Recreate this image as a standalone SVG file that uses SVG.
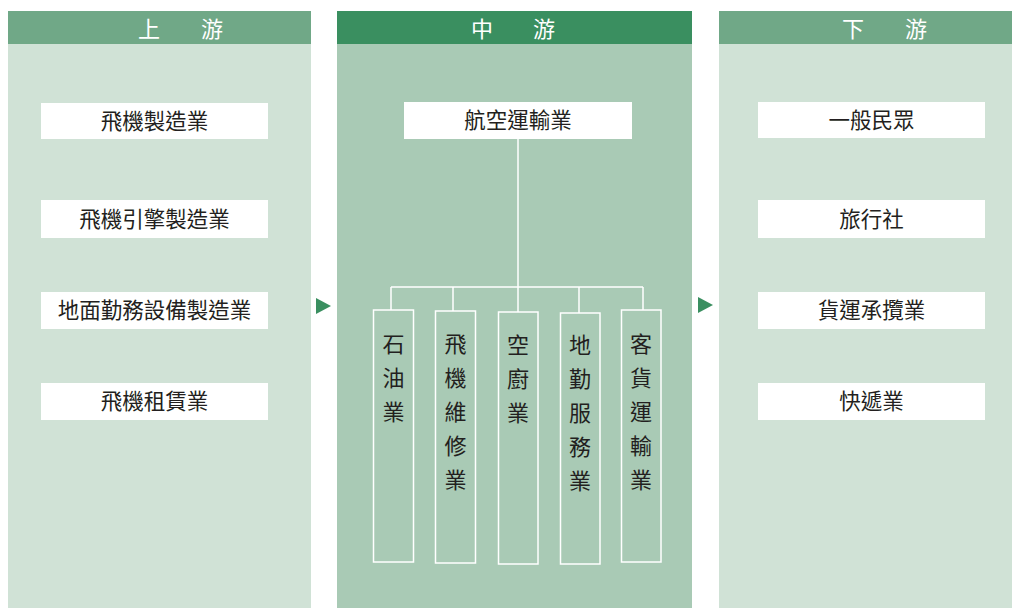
<svg xmlns="http://www.w3.org/2000/svg" width="1012" height="609" viewBox="0 0 1012 609">
<style>
.hdr-side{fill:#70a887}
.hdr-mid{fill:#3a8f60}
.body-side{fill:#d0e2d6}
.body-mid{fill:#a9cab5}
.htxt{font-family:"Noto Sans CJK TC","Noto Sans CJK SC",sans-serif;font-size:22px;fill:#ffffff;text-anchor:middle;dominant-baseline:central}
.box{fill:#ffffff}
.vbox{fill:none;stroke:#ffffff;stroke-width:1.5}
.txt{font-family:"Noto Sans CJK TC","Noto Sans CJK SC",sans-serif;font-size:21.5px;fill:#231f20;text-anchor:middle;dominant-baseline:central}
.vtxt{font-family:"Noto Sans CJK TC","Noto Sans CJK SC",sans-serif;font-size:22px;fill:#231f20;text-anchor:middle;dominant-baseline:central}
.conn{stroke:#ffffff;stroke-width:1.5;fill:none}
.arrow{fill:#3a8f60}
</style>
<rect width="1012" height="609" fill="#ffffff"/>
<g id="panel-upstream">
<rect class="body-side" x="8" y="44" width="303" height="564"/>
<rect class="hdr-side" x="8" y="11" width="303" height="33"/>
<text class="htxt" x="149" y="26.5">上</text>
<text class="htxt" x="212" y="26.5">游</text>
</g>
<g id="panel-midstream">
<rect class="body-mid" x="337" y="44" width="355" height="564"/>
<rect class="hdr-mid" x="337" y="11" width="355" height="33"/>
<text class="htxt" x="482" y="26.5">中</text>
<text class="htxt" x="544" y="26.5">游</text>
</g>
<g id="panel-downstream">
<rect class="body-side" x="719" y="44" width="293" height="564"/>
<rect class="hdr-side" x="719" y="11" width="293" height="33"/>
<text class="htxt" x="853" y="26.5">下</text>
<text class="htxt" x="916" y="26.5">游</text>
</g>
<g id="arrows">
<polygon class="arrow" points="316,298 331,306 316,314"/>
<polygon class="arrow" points="698,297 713,305 698,313"/>
</g>
<g id="connectors">
<path class="conn" d="M518,139 V287 M391,287 H643 M391,287 V310 M453,287 V311 M518,287 V312 M579,287 V313 M643,287 V310"/>
</g>
<g id="n-aircraft-mfg"><rect class="box" x="41" y="103" width="227" height="36"/><text class="txt" x="154.5" y="119">飛機製造業</text></g>
<g id="n-engine-mfg"><rect class="box" x="41" y="200" width="227" height="38"/><text class="txt" x="154.5" y="217">飛機引擎製造業</text></g>
<g id="n-ground-equip"><rect class="box" x="41" y="292" width="227" height="37"/><text class="txt" x="154.5" y="308.5">地面勤務設備製造業</text></g>
<g id="n-leasing"><rect class="box" x="41" y="383" width="227" height="37"/><text class="txt" x="154.5" y="399.5">飛機租賃業</text></g>
<g id="n-air-transport"><rect class="box" x="404" y="102" width="228" height="37"/><text class="txt" x="518" y="118.5">航空運輸業</text></g>
<g id="n-oil"><rect class="vbox" x="373.5" y="310" width="40" height="252"/>
<text class="vtxt" x="393.5" y="342">石</text><text class="vtxt" x="393.5" y="376">油</text><text class="vtxt" x="393.5" y="410">業</text></g>
<g id="n-maintenance"><rect class="vbox" x="435.5" y="311" width="40" height="252"/>
<text class="vtxt" x="455.5" y="342">飛</text><text class="vtxt" x="455.5" y="376">機</text><text class="vtxt" x="455.5" y="410">維</text><text class="vtxt" x="455.5" y="444">修</text><text class="vtxt" x="455.5" y="478">業</text></g>
<g id="n-catering"><rect class="vbox" x="498.5" y="312" width="39.5" height="252"/>
<text class="vtxt" x="518" y="343">空</text><text class="vtxt" x="518" y="377">廚</text><text class="vtxt" x="518" y="411">業</text></g>
<g id="n-ground-service"><rect class="vbox" x="560.5" y="313" width="39.5" height="251"/>
<text class="vtxt" x="580" y="343">地</text><text class="vtxt" x="580" y="377">勤</text><text class="vtxt" x="580" y="411">服</text><text class="vtxt" x="580" y="445">務</text><text class="vtxt" x="580" y="479">業</text></g>
<g id="n-passenger-cargo"><rect class="vbox" x="621.5" y="310" width="39.5" height="252"/>
<text class="vtxt" x="641" y="342">客</text><text class="vtxt" x="641" y="376">貨</text><text class="vtxt" x="641" y="410">運</text><text class="vtxt" x="641" y="444">輸</text><text class="vtxt" x="641" y="478">業</text></g>
<g id="n-public"><rect class="box" x="758" y="102" width="227" height="36"/><text class="txt" x="871.5" y="118">一般民眾</text></g>
<g id="n-travel"><rect class="box" x="758" y="200" width="227" height="38"/><text class="txt" x="871.5" y="217">旅行社</text></g>
<g id="n-freight"><rect class="box" x="758" y="292" width="227" height="37"/><text class="txt" x="871.5" y="308.5">貨運承攬業</text></g>
<g id="n-express"><rect class="box" x="758" y="383" width="227" height="37"/><text class="txt" x="871.5" y="399.5">快遞業</text></g>
</svg>
